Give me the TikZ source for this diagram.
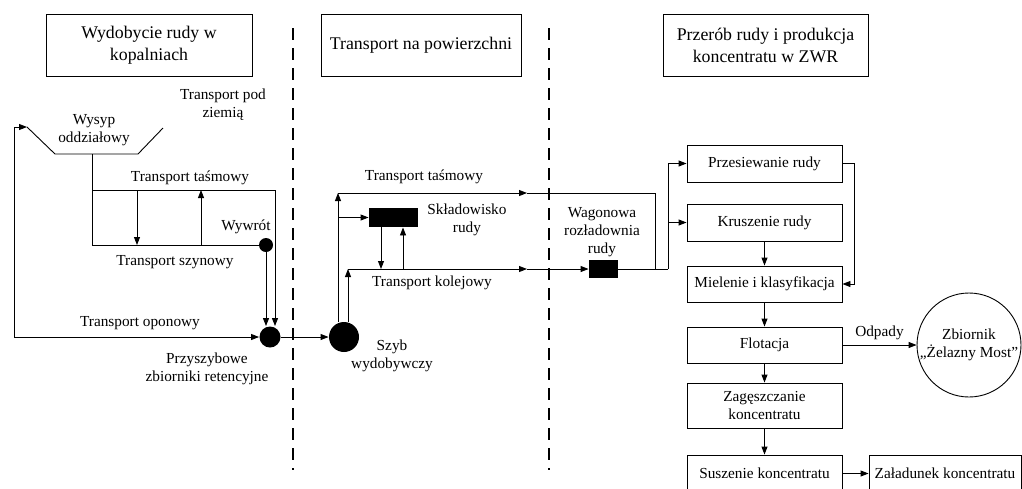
\documentclass[tikz,border=0pt]{standalone}
\usepackage{fontspec}
\setmainfont{Liberation Serif}
\usetikzlibrary{arrows.meta,calc}

\begin{document}
\begin{tikzpicture}[x=1pt,y=-1pt,line width=0.9pt,
  tip/.tip={Triangle[length=8pt,width=6pt]},
  arr/.style={-tip},
  lbl/.style={font=\fontsize{15.3}{18}\selectfont,align=center,inner sep=0pt},
  hdr/.style={draw,minimum height=62pt,font=\fontsize{17.8}{22}\selectfont,align=center},
  proc/.style={draw,minimum width=155pt,font=\fontsize{15.3}{18}\selectfont,align=center,inner sep=0pt},
  dot/.style={circle,fill=black,inner sep=0pt},
  blk/.style={fill=black,inner sep=0pt},
  sep/.style={dash pattern=on 12pt off 8pt,line width=2pt}]
\useasboundingbox (0,0) rectangle (1022,488);

% stage headers and separators
\node[hdr,minimum width=206pt] (h1) at (149,45) {Wydobycie rudy w\\kopalniach};
\node[hdr,minimum width=200pt] (h2) at (421,45) {Transport na powierzchni};
\node[hdr,minimum width=205pt] (h3) at (765.5,45) {Przerób rudy i produkcja\\koncentratu w ZWR};
\coordinate (sepAt) at (292.5,28); \coordinate (sepAb) at (292.5,470);
\coordinate (sepBt) at (549,28);   \coordinate (sepBb) at (549,470);
\draw[sep] (sepAt) -- (sepAb);
\draw[sep] (sepBt) -- (sepBb);

% underground: hopper, rail/belt loop, tyre transport
\coordinate (wA) at (27,127);
\coordinate (wB) at (55,154);
\coordinate (wC) at (138,154);
\coordinate (wD) at (163,128);
\draw (wA) -- (wB) -- (wC) -- (wD);
\node[lbl] (wysyp) at (94,130) {Wysyp\\oddziałowy};
\node[lbl] (tpod) at (223,105) {Transport pod\\ziemią};

\node[dot,minimum size=14pt] (wyw) at (266,245) {};
\node[dot,minimum size=21pt] (ret) at (270,337) {};
\node[lbl] (lwyw) at (246,227) {Wywrót};
\node[lbl] (lret) at (207,369) {Przyszybowe\\zbiorniki retencyjne};

\coordinate (r1) at (92,154);
\coordinate (r2) at (92,190);
\coordinate (r3) at (275,190);
\coordinate (r4) at (92,245);
\draw (r1) -- (r4) -- (wyw);
\draw[arr] (r2) -- (r3) -- (r3 |- ret.north);
\draw[arr] (wyw) -- (wyw |- ret.north);
\coordinate (d1t) at (137,190); \coordinate (d1b) at (137,245);
\coordinate (u1t) at (201,190); \coordinate (u1b) at (201,245);
\draw[arr] (d1t) -- (d1b);
\draw[arr] (u1b) -- (u1t);
\node[lbl] (ltas1) at (190,178) {Transport taśmowy};
\node[lbl] (lszy) at (175,262) {Transport szynowy};

\coordinate (tl) at (14,127);
\coordinate (bl) at (14,337);
\draw[tip-tip] (wA) -- (tl) -- (bl) -- (ret.west);
\node[lbl] (lopo) at (140,323) {Transport oponowy};

% surface transport
\node[dot,minimum size=30pt] (szyb) at (344,337) {};
\node[lbl] (lszyb) at (392,356) {Szyb\\wydobywczy};
\draw[arr] (ret) -- (szyb);

\node[blk,minimum width=49pt,minimum height=19pt] (skl) at (393.5,217.5) {};
\node[lbl] (lskl) at (467,220) {Składowisko\\rudy};
\node[blk,minimum width=29pt,minimum height=18pt] (wag) at (603.5,269) {};
\node[lbl] (lwag) at (602,232) {Wagonowa\\rozładownia\\rudy};

\coordinate (s1) at (338,193);
\coordinate (s2) at (348,269);
\coordinate (m1) at (527,193);
\coordinate (m2) at (527,269);
\coordinate (t1) at (655,193);
\coordinate (t2) at (655,269);
\draw[arr] (s1 |- szyb.north) -- (s1);
\draw[arr] (s1) -- (m1);
\draw (m1) -- (t1) -- (t2);
\draw[arr] (s1 |- skl) -- (skl.west);
\coordinate (k1) at (381,269);
\coordinate (k2) at (403,269);
\draw[arr] (k1 |- skl.south) -- (k1);
\draw[arr] (k2) -- (k2 |- skl.south);
\draw[arr] (s2 |- szyb.north) -- (s2);
\draw[arr] (s2) -- (m2);
\draw[arr] (m2) -- (wag.west);
\node[lbl] (ltas2) at (424,177) {Transport taśmowy};
\node[lbl] (lkol) at (432,283) {Transport kolejowy};

% processing plant
\node[proc,minimum height=37pt] (prz) at (764.5,163.5) {Przesiewanie rudy};
\node[proc,minimum height=37pt] (kru) at (764.5,222.5) {Kruszenie rudy};
\node[proc,minimum height=36pt] (mie) at (764.5,284) {Mielenie i klasyfikacja};
\node[proc,minimum height=36pt] (flo) at (764.5,345) {Flotacja};
\node[proc,minimum height=45pt] (zag) at (764.5,405.5) {Zagęszczanie\\koncentratu};
\node[proc,minimum height=37pt] (sus) at (764.5,473.5) {Suszenie koncentratu};
\node[proc,minimum height=37pt,minimum width=152pt] (zal) at (945,473.5) {Załadunek koncentratu};
\node[draw,circle,minimum size=104pt,inner sep=0pt,lbl] (zb) at (969,345) {Zbiornik\\„Żelazny Most”};

\coordinate (j1) at (668,269);
\draw (wag.east) -- (j1);
\draw[arr] (j1) |- (prz.west);
\draw[arr] (j1 |- kru) -- (kru.west);
\draw[arr] (prz.east) -- ++(12,0) |- (mie.east);
\draw[arr] (kru) -- (mie);
\draw[arr] (mie) -- (flo);
\draw[arr] (flo) -- (zag);
\draw[arr] (zag) -- (sus);
\draw[arr] (sus) -- (zal);
\draw[arr] (flo) -- node[lbl,above=5pt] (lodp) {Odpady} (zb);
\end{tikzpicture}
\end{document}
